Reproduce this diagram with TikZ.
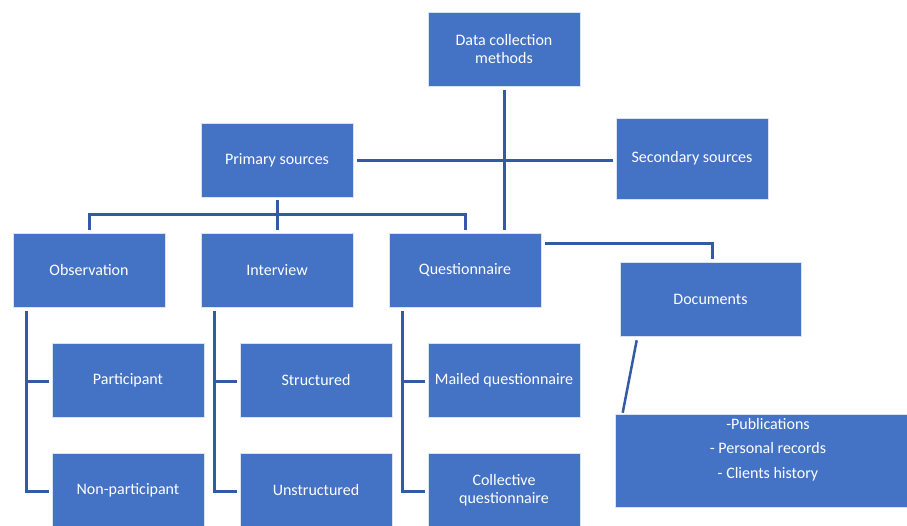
\documentclass[tikz,border=0pt]{standalone}
\usepackage{fontspec}
\setmainfont{Carlito}
\usetikzlibrary{positioning, calc}
\definecolor{boxblue}{RGB}{68,114,196}
\definecolor{lineblue}{RGB}{52,90,165}

\begin{document}
\begin{tikzpicture}[x=1pt, y=-1pt,
      box/.style={fill=boxblue, draw=white!80!boxblue, line width=0.6pt, text=white,
        minimum width=152pt, minimum height=74pt, inner sep=2pt, align=center,
        font=\fontsize{16}{18}\selectfont},
      boxtext/.style={text=white, inner sep=0pt, align=center, font=\fontsize{16}{24.5}\selectfont},
      link/.style={draw=lineblue, line width=3pt}]
  \useasboundingbox (0,0) rectangle (907,525);
  \clip (0,0) rectangle (907,525);
  % top level
  \node[box] (dcm) at (504,49) {Data collection\\methods};
  \node[box] (prim) at (277,160) {Primary sources};
  \node[box, minimum height=81pt] (sec) at (692,158.5) {Secondary sources};
  % methods
  \node[box] (obs) at (89,270) {Observation};
  \node[box] (intv) at (277,270) {Interview};
  \node[box] (quest) at (465,270) {Questionnaire};
  \node[box, minimum width=181pt] (docs) at (710.5,299) {Documents};
  % sub types
  \node[box] (part) at (128,380) {Participant};
  \node[box] (nonpart) at (128,490) {Non-participant};
  \node[box] (struct) at (316,380) {Structured};
  \node[box] (unstruct) at (316,490) {Unstructured};
  \node[box] (mailed) at (504,380) {Mailed questionnaire};
  \node[box] (collect) at (504,490) {Collective\\questionnaire};
  \node[box, minimum width=306pt, minimum height=93pt] (pubs) at (768,460.5) {};
  \node[boxtext, anchor=north] (publist) at ($(pubs.north)+(0,4)$)
    {-Publications\\- Personal records\\- Clients history};

  % trunk and primary/secondary
  \draw[link] ([yshift=-4pt]dcm.south) -- ($(dcm.south |- quest.north)+(0,-3)$);
  \draw[link] ([xshift=4pt]prim.east) -- ($(sec.west |- prim.east)+(-3,0)$);
  % primary -> methods
  \draw[link] ([yshift=-3pt]prim.south) -- ($(intv.north)+(0,-3)$);
  \draw[link] ($(obs.north)+(0,-3)$) -- ++(0,-15) -| ($(quest.north)+(0,-3)$);
  % questionnaire -> documents
  \draw[link] ($(quest.north east)+(4,11)$) -| ($(docs.north)+(1.5,-3)$);
  \draw[link, line width=2.5pt] ($(docs.south west)+(17,4)$) -- ($(pubs.north west)+(8,-1)$);
  % side brackets
  \draw[link] ($(obs.south west)+(14,4)$) |- ($(nonpart.west)+(-3,1)$);
  \draw[link] ($(obs.south west |- part.west)+(14,1)$) -- ($(part.west)+(-3,1)$);
  \draw[link] ($(intv.south west)+(14,4)$) |- ($(unstruct.west)+(-3,1)$);
  \draw[link] ($(intv.south west |- struct.west)+(14,1)$) -- ($(struct.west)+(-3,1)$);
  \draw[link] ($(quest.south west)+(14,4)$) |- ($(collect.west)+(-3,1)$);
  \draw[link] ($(quest.south west |- mailed.west)+(14,1)$) -- ($(mailed.west)+(-3,1)$);
\end{tikzpicture}
\end{document}
